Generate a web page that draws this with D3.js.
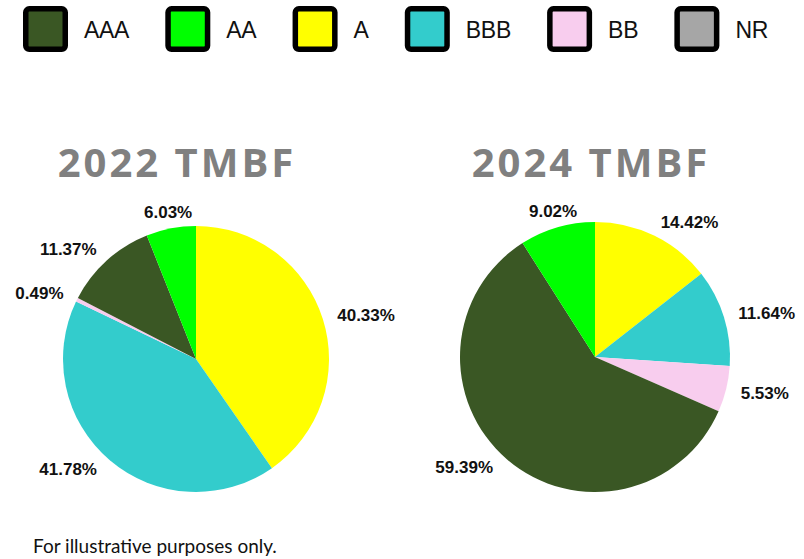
<!DOCTYPE html>
<html><head><meta charset="utf-8">
<script src="https://cdn.jsdelivr.net/npm/d3@7"></script>
<style>
html,body{margin:0;padding:0;background:#fff;}
svg{display:block;}
</style></head>
<body>
<svg id="chart" width="804" height="559"></svg>
<script>
// ---- data ----
const categories = ["AAA", "AA", "A", "BBB", "BB", "NR"];
const colors = ["#3a5724", "#00ff00", "#ffff00", "#33cccc", "#f8cdee", "#a6a6a6"];
// slice drawing order (clockwise from 12 o'clock)
const sliceOrder = ["A", "BBB", "BB", "AAA", "AA", "NR"];
const titles = ["2022 TMBF", "2024 TMBF"];
const values2022 = {AAA: 11.37, AA: 6.03, A: 40.33, BBB: 41.78, BB: 0.49, NR: 0};
const values2024 = {AAA: 59.39, AA: 9.02, A: 14.42, BBB: 11.64, BB: 5.53, NR: 0};
const footnote = "For illustrative purposes only.";

// ---- layout ----
const svg = d3.select("#chart");
const color = d3.scaleOrdinal().domain(categories).range(colors);

// legend: justified between left and right edges
const legend = svg.append("g");
const legLeft = 23, legRight = 768, sq = 45, g1 = 16;
const items = categories.map(c => {
  const t = legend.append("text")
    .attr("y", 37.5)
    .attr("font-family", "Liberation Sans, Arial, sans-serif")
    .attr("font-size", 23).attr("fill", "#111")
    .attr("letter-spacing", -0.3)
    .text(c);
  return {c, t, w: t.node().getComputedTextLength()};
});
const fixed = d3.sum(items, d => sq + g1 + d.w);
const gap = (legRight - legLeft - fixed) / (items.length - 1);
let lx = legLeft;
items.forEach(d => {
  legend.append("rect")
    .attr("x", lx + 2.75).attr("y", 8.8).attr("width", sq - 5.5).attr("height", 40.5)
    .attr("rx", 3.5).attr("ry", 3.5)
    .attr("fill", color(d.c)).attr("stroke", "#000").attr("stroke-width", 5.5);
  d.t.attr("x", lx + sq + g1);
  lx += sq + g1 + d.w + gap;
});

const pies = [
  {values: values2022, title: titles[0], cx: 196, cy: 359, r: 133, tx: 177},
  {values: values2024, title: titles[1], cx: 595, cy: 357, r: 135, tx: 591}
];

const pie = d3.pie().sort(null).value(d => d.value);

pies.forEach(p => {
  const data = sliceOrder.map(k => ({key: k, value: p.values[k]}));
  const arcs = pie(data);
  const arc = d3.arc().innerRadius(0).outerRadius(p.r);
  const g = svg.append("g").attr("transform", `translate(${p.cx},${p.cy})`);
  g.selectAll("path").data(arcs.filter(a => a.data.value > 0)).join("path")
    .attr("d", arc).attr("fill", d => color(d.data.key));

  // labels
  const Rl = p.r + 15;
  const maxY = 110;
  arcs.filter(a => a.data.value > 0).forEach(a => {
    const ang = (a.startAngle + a.endAngle) / 2;
    const s = Math.sin(ang), c = Math.cos(ang);
    let x, y, anchor;
    if (Math.abs(s) < 0.35) {
      x = Rl * s; y = -Rl * c - 2; anchor = "middle";
    } else {
      y = Math.min(-Rl * c, maxY);
      x = (s < 0 ? -1 : 1) * Math.sqrt(Rl * Rl - y * y);
      anchor = s < 0 ? "end" : "start";
    }
    g.append("text")
      .attr("x", x).attr("y", y).attr("dy", "0.35em")
      .attr("text-anchor", anchor)
      .attr("font-family", "Liberation Sans, Arial, sans-serif")
      .attr("font-weight", "bold").attr("font-size", 17).attr("fill", "#111")
      .text(a.data.value.toFixed(2) + "%");
  });

  svg.append("text")
    .attr("x", p.tx).attr("y", 177).attr("text-anchor", "middle")
    .attr("font-family", "Open Sans, sans-serif").attr("font-weight", "bold")
    .attr("font-size", 40).attr("letter-spacing", 3).attr("fill", "#808080")
    .text(p.title);
});

svg.append("text")
  .attr("x", 33).attr("y", 553)
  .attr("font-family", "Lato, sans-serif")
  .attr("font-size", 19).attr("fill", "#111")
  .text(footnote);
</script>
</body></html>
